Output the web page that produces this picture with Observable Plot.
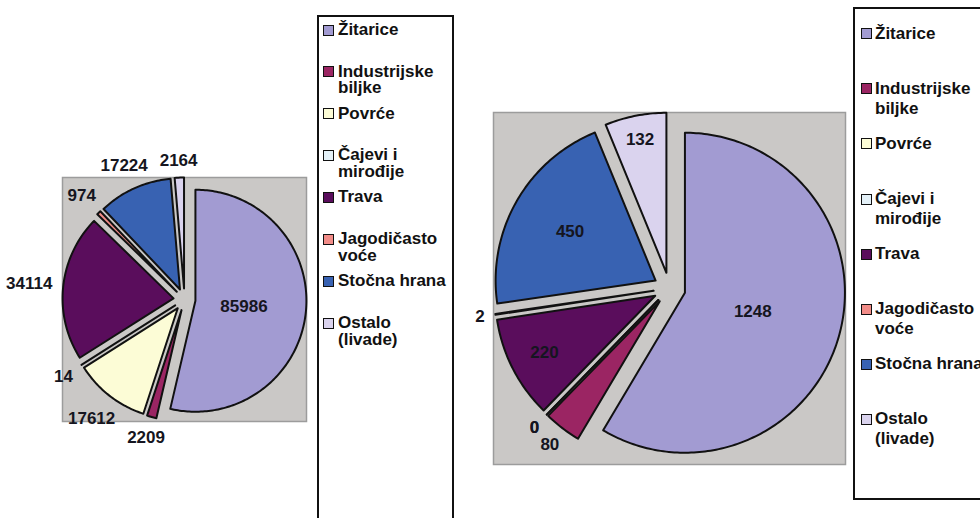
<!DOCTYPE html>
<html>
<head>
<meta charset="utf-8">
<script src="https://cdn.jsdelivr.net/npm/d3@7"></script>
<script src="https://cdn.jsdelivr.net/npm/@observablehq/plot@0.6"></script>
<style>
  body { margin: 0; background: #fff; }
  #page { position: relative; width: 980px; height: 518px; overflow: hidden; background: #fff;
          font-family: "Liberation Sans", Arial, sans-serif; }
  .chart { position: absolute; top: 0; }
  .chart svg { overflow: visible; }
  .legend-box { position: absolute; border: 2px solid #111; box-sizing: border-box; }
  .entry { position: absolute; display: flex; align-items: flex-start; font-weight: bold;
           font-size: 17px; color: #111; }
  .swatch { width: 11px; height: 11px; border: 1.5px solid #111; box-sizing: border-box; flex: none; }
  .name { width: 113px; }
</style>
</head>
<body>
<div id="page"></div>
<script>
// Land use by crop group: left = area, right = second indicator
const categories = ["Žitarice", "Industrijske biljke", "Povrće", "Čajevi i mirođije",
                    "Trava", "Jagodičasto voće", "Stočna hrana", "Ostalo (livade)"];
const colors = ["#a29bd2", "#9b2563", "#fcfcd6", "#e4f1f8",
                "#5a0d5c", "#f28c88", "#3862b2", "#dad3ee"];
const valuesLeft  = [85986, 2209, 17612, 14, 34114, 974, 17224, 2164];
const valuesRight = [1248, 80, 0, 0, 220, 2, 450, 132];
// which value labels are drawn inside their slice
const insideLeft  = [true, false, false, false, false, false, false, false];
const insideRight = [true, false, false, false, true, false, true, true];

const page = document.getElementById("page");
const FONT = 17;

function pieChart({values, inside, radius, explode, left, width, height,
                   marginLeft, marginTop, marginRight, marginBottom}) {
  const R = radius + explode;
  const rows = categories.map((c, i) => ({category: c, value: values[i], inside: inside[i]}));
  const arcs = d3.pie().sort(null).value(d => d.value)(rows);
  const outline = [];
  const labels = [];
  for (const a of arcs) {
    const mid = (a.startAngle + a.endAngle) / 2;
    const ux = Math.sin(mid), uy = Math.cos(mid);
    const ox = explode * ux, oy = explode * uy;
    const cat = a.data.category;
    // exploded wedge: apex, then the arc
    outline.push({category: cat, x: ox, y: oy});
    const span = a.endAngle - a.startAngle;
    const steps = Math.max(1, Math.ceil(span / (Math.PI / 180)));
    for (let k = 0; k <= steps; k++) {
      const t = a.startAngle + span * k / steps;
      outline.push({category: cat, x: ox + radius * Math.sin(t), y: oy + radius * Math.cos(t)});
    }
    const text = String(a.data.value);
    const w = text.length * 0.556 * FONT, h = 0.72 * FONT;
    let lx, ly;
    if (a.data.inside) {
      const deg = span * 180 / Math.PI;
      const f = Math.max(0.44, 1 - 0.0137 * Math.pow(deg, 0.77));
      lx = ox + f * radius * ux; ly = oy + f * radius * uy;
    } else {
      const d = R + 10 + Math.abs(ux) * w / 2 + Math.abs(uy) * h / 2;
      lx = d * ux; ly = d * uy;
    }
    labels.push({text, x: lx, y: ly});
  }

  const svg = Plot.plot({
    width, height, marginLeft, marginTop, marginRight, marginBottom,
    x: {domain: [-R, R], axis: null},
    y: {domain: [-R, R], axis: null},
    color: {domain: categories, range: colors},
    style: {fontFamily: "'Liberation Sans', Arial, sans-serif", background: "transparent", overflow: "visible"},
    marks: [
      Plot.frame({fill: "#cac8c6", stroke: "#9c9c9c", strokeWidth: 1.5}),
      Plot.line(outline, {x: "x", y: "y", z: "category", fill: "category",
                          stroke: "#111", strokeWidth: 2, strokeLinejoin: "round",
                          curve: "linear-closed"}),
      Plot.text(labels, {x: "x", y: "y", text: "text", fontSize: FONT, fontWeight: "bold",
                         fill: "#151520", textAnchor: "middle", lineAnchor: "middle"})
    ]
  });
  const holder = document.createElement("div");
  holder.className = "chart";
  holder.style.left = left + "px";
  holder.appendChild(svg);
  page.appendChild(holder);
}

function legend({boxLeft, boxTop, boxWidth, boxHeight, swatchLeft, textGap, firstLine, step, lineHeight}) {
  const box = document.createElement("div");
  box.className = "legend-box";
  Object.assign(box.style, {left: boxLeft + "px", top: boxTop + "px",
                            width: boxWidth + "px", height: boxHeight + "px"});
  page.appendChild(box);
  categories.forEach((name, i) => {
    const e = document.createElement("div");
    e.className = "entry";
    const center = firstLine + i * step;
    Object.assign(e.style, {left: swatchLeft + "px", top: (center - lineHeight / 2) + "px",
                            lineHeight: lineHeight + "px"});
    const sw = document.createElement("span");
    sw.className = "swatch";
    sw.style.background = colors[i];
    sw.style.marginTop = ((lineHeight - 11) / 2) + "px";
    sw.style.marginRight = textGap + "px";
    const t = document.createElement("span");
    t.className = "name";
    t.textContent = name;
    e.appendChild(sw);
    e.appendChild(t);
    page.appendChild(e);
  });
}

pieChart({values: valuesLeft, inside: insideLeft, radius: 111, explode: 11,
          left: 0, width: 312, height: 518,
          marginLeft: 62, marginTop: 177, marginRight: 6, marginBottom: 97});
legend({boxLeft: 317, boxTop: 15, boxWidth: 137, boxHeight: 600,
        swatchLeft: 323, textGap: 4, firstLine: 30, step: 41.9, lineHeight: 16.5});

pieChart({values: valuesRight, inside: insideRight, radius: 160, explode: 16,
          left: 460, width: 390, height: 518,
          marginLeft: 33, marginTop: 112, marginRight: 5, marginBottom: 54});
legend({boxLeft: 853, boxTop: 7, boxWidth: 200, boxHeight: 493,
        swatchLeft: 861, textGap: 3, firstLine: 33.7, step: 55.1, lineHeight: 20});
</script>
</body>
</html>
